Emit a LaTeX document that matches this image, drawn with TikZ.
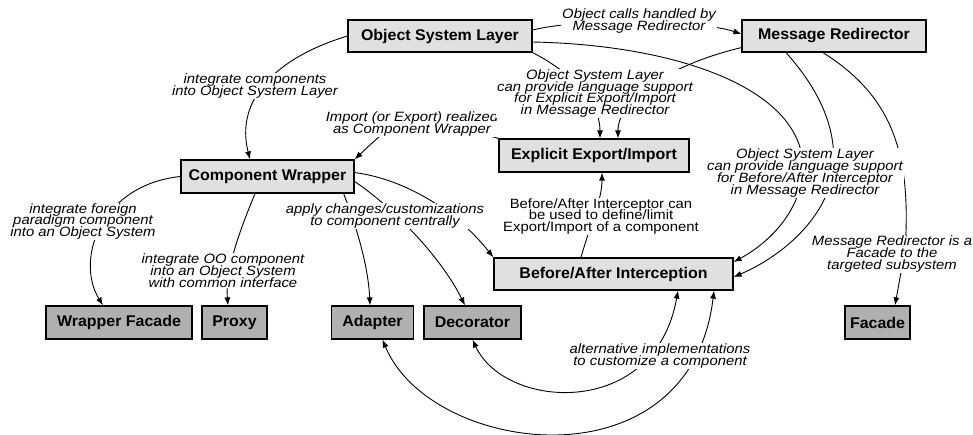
\documentclass[tikz,border=0pt]{standalone}
\usepackage{fontspec}
\setmainfont{Liberation Sans}
\newfontfamily\boxfont[FakeStretch=1.03]{Liberation Sans}
\newfontfamily\notefont[FakeStretch=1.1]{Liberation Sans}
\usetikzlibrary{arrows.meta,calc}
\pgfdeclarelayer{edges}
\pgfsetlayers{edges,main}
\definecolor{boxlight}{RGB}{224,224,224}
\definecolor{boxdark}{RGB}{176,176,176}
\begin{document}
\begin{tikzpicture}[x=1pt,y=-1pt,
  box/.style={draw=black, line width=1.2pt, inner sep=0pt,
    font=\boxfont\bfseries\fontsize{15.5}{18}\selectfont},
  upper/.style={box, fill=boxlight},
  lower/.style={box, fill=boxdark},
  note/.style={fill=white, inner sep=1pt, align=center,
    font={\notefont\itshape\fontsize{13.5}{11.7}\selectfont\lineskiplimit=-20pt\lineskip=0pt}},
  plain note/.style={note,
    font={\notefont\upshape\fontsize{13.5}{11.7}\selectfont\lineskiplimit=-20pt\lineskip=0pt}},
  link/.style={line width=0.9pt, -{Latex[length=8pt,width=6pt]}},
  both/.style={line width=0.9pt, {Latex[length=8pt,width=6pt]}-{Latex[length=8pt,width=6pt]}}]
\useasboundingbox (0,0) rectangle (973,434);

% pattern boxes
\node[upper, minimum width=184pt, minimum height=32pt] (osl) at (440,36) {Object System Layer};
\node[upper, minimum width=184pt, minimum height=32pt] (mr) at (834,36) {Message Redirector};
\node[upper, minimum width=190pt, minimum height=33pt] (eei) at (594,155.5) {Explicit Export/Import};
\node[upper, minimum width=173pt, minimum height=33pt] (cw) at (267.5,176.5) {Component Wrapper};
\node[upper, minimum width=239pt, minimum height=32pt] (bai) at (613.5,274) {Before/After Interception};
\node[lower, minimum width=146pt, minimum height=33pt] (wf) at (119,322.5) {Wrapper Facade};
\node[lower, minimum width=65pt, minimum height=33pt] (proxy) at (234.5,322.5) {Proxy};
\node[lower, minimum width=82pt, minimum height=33pt] (adapter) at (372.5,322.5) {Adapter};
\node[lower, minimum width=97pt, minimum height=33pt] (decorator) at (472.5,322.5) {Decorator};
\node[lower, minimum width=65pt, minimum height=33pt] (facade) at (877.5,322.5) {Facade};

% relationship labels
\node[note] (lcalls) at (639,21) {Object calls handled by\\Message Redirector};
\node[note] (lint) at (255,86) {integrate components\\into Object System Layer};
\node[note] (limp) at (412,124) {Import (or Export) realized\\as Component Wrapper};
\node[note] (lexp) at (595,93.5) {Object System Layer\\can provide language support\\for Explicit Export/Import\\in Message Redirector};
\node[note] (lforeign) at (83,221.5) {integrate foreign\\paradigm component\\into an Object System};
\node[note] (loo) at (223,270.5) {integrate OO component\\into an Object System\\with common interface};
\node[note] (lapply) at (385,216) {apply changes/customizations\\to component centrally};
\node[plain note] (lbai) at (601,216.5) {Before/After Interceptor can\\be used to define/limit\\Export/Import of a component};
\node[note] (losl2) at (805,173) {Object System Layer\\can provide language support\\for Before/After Interceptor\\in Message Redirector};
\node[note] (lfacade) at (892,254) {Message Redirector is a\\Facade to the\\targeted subsystem};
\node[note] (lalt) at (660,356) {alternative implementations\\to customize a component};

% connectors run underneath the labels
\begin{pgfonlayer}{edges}
\draw[link] ([yshift=6pt]osl.east) .. controls (580,18) and (700,20) .. ([yshift=2pt]mr.west);
\draw[link] (osl.west) .. controls (275,58) and (235,100) .. ([xshift=-17.5pt]cw.north);
\draw[link] (eei.north west) .. controls (405,112) .. (cw.north east);
\draw[link] (cw.west) .. controls (100,185) and (75,260) .. ([xshift=-16pt]wf.north);
\draw[link] ([xshift=-12.5pt]cw.south) .. controls (240,230) and (225,270) .. ([xshift=-6.5pt]proxy.north);
\draw[link] ([xshift=-11pt]cw.south east) .. controls (352,215) and (368,260) .. ([xshift=-2.5pt]adapter.north);
\draw[link] ([yshift=-5pt]cw.east) .. controls (390,205) and (440,255) .. ([xshift=-7.5pt]decorator.north);
\draw[link] ([yshift=4pt]cw.east) .. controls (410,180) and (460,215) .. (bai.north west);
\draw[link] ([xshift=-32.5pt]bai.north) .. controls (590,225) and (602,200) .. ([xshift=8pt]eei.south);
\draw[link] (osl.south east) .. controls (570,72) and (600,100) .. ([xshift=6pt]eei.north);
\draw[link] ([yshift=5pt]mr.south west) .. controls (680,62) and (618,95) .. ([xshift=24pt]eei.north);
\draw[link] ([yshift=-6pt]osl.east) .. controls (680,45) and (805,90) .. (803,170)
  .. controls (800,215) and (765,245) .. ([yshift=12pt]bai.east);
\draw[link] ([xshift=-48pt]mr.south) .. controls (815,85) and (838,125) .. (833,170)
  .. controls (828,215) and (785,255) .. ([yshift=-3pt]bai.east);
\draw[link] ([xshift=-11pt]mr.south) .. controls (890,95) and (912,150) .. (905,250)
  -- ([xshift=17.5pt]facade.north);
\draw[both] (decorator.south) .. controls (505,410) and (655,420) .. ([xshift=64.5pt]bai.south);
\draw[both] ([xshift=10pt]adapter.south) .. controls (430,455) and (690,490) .. ([xshift=100.5pt]bai.south);
\end{pgfonlayer}
\end{tikzpicture}
\end{document}
